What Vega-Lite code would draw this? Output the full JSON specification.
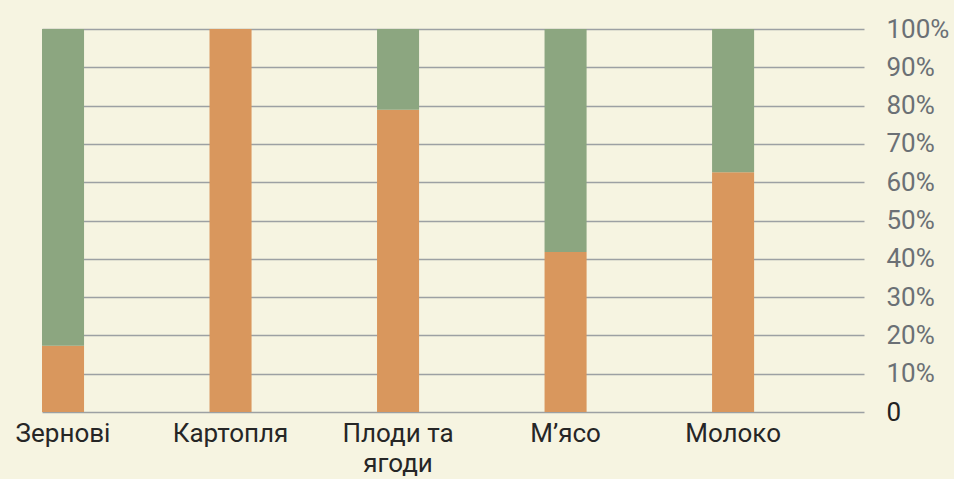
{
  "$schema": "https://vega.github.io/schema/vega-lite/v6.json",
  "autosize": {"type": "none"},
  "width": 822,
  "height": 383,
  "padding": {"left": 42, "top": 29, "right": 90, "bottom": 67},
  "background": "#f6f4e1",
  "config": {
    "view": {"stroke": null},
    "font": "Roboto"
  },
  "data": {
    "values": [
      {"category": "Зернові", "producer": "Господарства населення", "rank": 1, "share": 0.173},
      {"category": "Зернові", "producer": "Підприємства", "rank": 2, "share": 0.827},
      {"category": "Картопля", "producer": "Господарства населення", "rank": 1, "share": 1.0},
      {"category": "Картопля", "producer": "Підприємства", "rank": 2, "share": 0.0},
      {"category": "Плоди та ягоди", "producer": "Господарства населення", "rank": 1, "share": 0.789},
      {"category": "Плоди та ягоди", "producer": "Підприємства", "rank": 2, "share": 0.211},
      {"category": "М’ясо", "producer": "Господарства населення", "rank": 1, "share": 0.418},
      {"category": "М’ясо", "producer": "Підприємства", "rank": 2, "share": 0.582},
      {"category": "Молоко", "producer": "Господарства населення", "rank": 1, "share": 0.626},
      {"category": "Молоко", "producer": "Підприємства", "rank": 2, "share": 0.374}
    ]
  },
  "mark": {"type": "bar"},
  "encoding": {
    "x": {
      "field": "category",
      "type": "nominal",
      "sort": null,
      "scale": {"paddingInner": 0.749, "paddingOuter": 0.328, "align": 0},
      "axis": {
        "title": null,
        "domain": false,
        "ticks": false,
        "grid": false,
        "labelAngle": 0,
        "labelFontSize": 26,
        "labelColor": "#262626",
        "labelPadding": 8,
        "labelLineHeight": 30,
        "labelLimit": 300,
        "labelExpr": "datum.label == 'Плоди та ягоди' ? ['Плоди та', 'ягоди'] : datum.label"
      }
    },
    "y": {
      "field": "share",
      "type": "quantitative",
      "stack": "zero",
      "scale": {"domain": [0, 1], "nice": false},
      "axis": {
        "orient": "right",
        "title": null,
        "domain": false,
        "ticks": false,
        "values": [0, 0.1, 0.2, 0.3, 0.4, 0.5, 0.6, 0.7, 0.8, 0.9, 1.0],
        "labelExpr": "datum.value == 0 ? '0' : format(datum.value, '.0%')",
        "labelFontSize": 26,
        "labelPadding": 22,
        "labelAlign": "left",
        "labelBaseline": "middle",
        "labelColor": {"condition": {"test": "datum.value == 0", "value": "#222222"}, "value": "#6b7075"},
        "grid": true,
        "gridColor": "#9ca0a3",
        "gridWidth": 1.5,
        "gridOpacity": 1
      }
    },
    "color": {
      "field": "producer",
      "type": "nominal",
      "scale": {"domain": ["Господарства населення", "Підприємства"], "range": ["#d9975d", "#8ca680"]},
      "legend": null
    },
    "order": {"field": "rank", "type": "quantitative"}
  }
}
